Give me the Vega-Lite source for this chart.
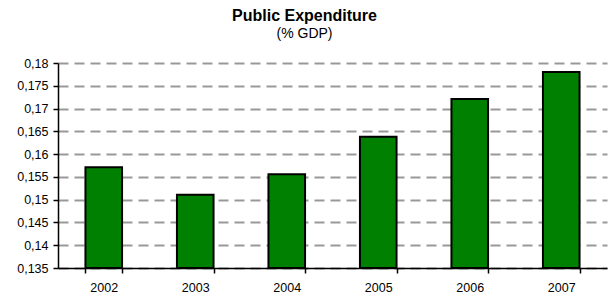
{
  "$schema": "https://vega.github.io/schema/vega-lite/v6.json",
  "width": 549,
  "height": 205,
  "autosize": "none",
  "padding": {"left": 58, "top": 63, "right": 3, "bottom": 29},
  "background": "white",
  "title": {
    "text": "Public Expenditure",
    "subtitle": "(% GDP)",
    "anchor": "middle",
    "frame": "group",
    "dx": -28,
    "offset": 16,
    "font": "Liberation Sans",
    "fontSize": 16,
    "fontWeight": "bold",
    "color": "black",
    "subtitleFont": "Liberation Sans",
    "subtitleFontSize": 14,
    "subtitleColor": "black",
    "subtitlePadding": 3
  },
  "data": {
    "values": [
      {"year": "2002", "value": 0.1571},
      {"year": "2003", "value": 0.1511},
      {"year": "2004", "value": 0.1556},
      {"year": "2005", "value": 0.1638},
      {"year": "2006", "value": 0.1721},
      {"year": "2007", "value": 0.178}
    ]
  },
  "mark": {"type": "bar", "fill": "#008000", "stroke": "black", "strokeWidth": 2},
  "encoding": {
    "x": {
      "field": "year",
      "type": "ordinal",
      "scale": {"paddingInner": 0.6, "paddingOuter": 0.3},
      "axis": {
        "title": null,
        "labelAngle": 0,
        "tickBand": "extent",
        "domainColor": "black",
        "domainWidth": 1.5,
        "tickColor": "black",
        "tickWidth": 1.5,
        "tickSize": 5,
        "labelFont": "Liberation Sans",
        "labelFontSize": 12.5,
        "labelColor": "black",
        "labelPadding": 8,
        "grid": false
      }
    },
    "y": {
      "field": "value",
      "type": "quantitative",
      "scale": {"domain": [0.135, 0.18], "zero": false, "nice": false},
      "axis": {
        "title": null,
        "values": [0.135, 0.14, 0.145, 0.15, 0.155, 0.16, 0.165, 0.17, 0.175, 0.18],
        "labelExpr": "replace(format(datum.value, '.3~f'), '.', ',')",
        "domainColor": "black",
        "domainWidth": 1.5,
        "tickColor": "black",
        "tickWidth": 1.5,
        "tickSize": 5,
        "labelFont": "Liberation Sans",
        "labelFontSize": 12.5,
        "labelColor": "black",
        "labelPadding": 5,
        "grid": true,
        "gridColor": "#999999",
        "gridWidth": 2,
        "gridDash": [10, 6]
      }
    },
    "y2": {"datum": 0.135}
  },
  "config": {"view": {"stroke": null}}
}
